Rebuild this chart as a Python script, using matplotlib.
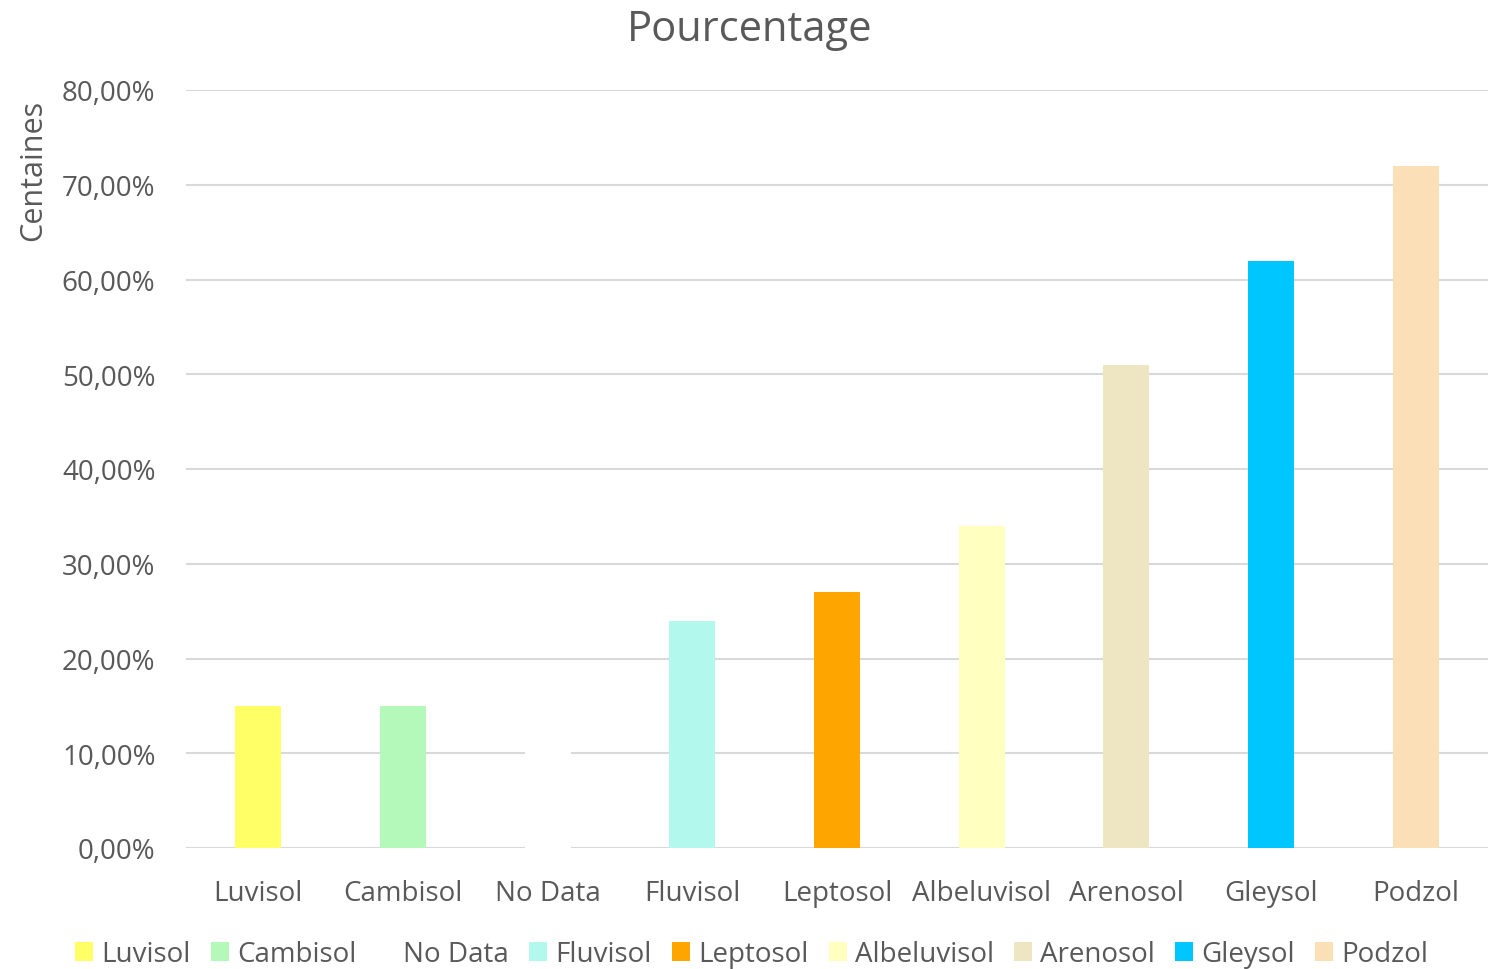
import matplotlib.pyplot as plt
from matplotlib.patches import Patch
from matplotlib.ticker import FuncFormatter

categories = ['Luvisol', 'Cambisol', 'No Data', 'Fluvisol', 'Leptosol',
              'Albeluvisol', 'Arenosol', 'Gleysol', 'Podzol']
values = [0.15, 0.15, 0.15, 0.24, 0.27, 0.34, 0.51, 0.62, 0.72]
colors = ['#FFFF66', '#B4F8BA', '#FFFFFF', '#B2F8EC', '#FFA500',
          '#FFFFC0', '#EEE5C2', '#00C6FF', '#FADFB7']

plt.rcParams['font.family'] = ['Open Sans', 'DejaVu Sans']
txt = '#595959'

fig = plt.figure(figsize=(14.99, 9.70), dpi=100)
ax = fig.add_axes([186 / 1499, 1 - 849 / 970, 1302 / 1499, 758 / 970])

x = range(len(categories))
ax.bar(x, values, width=0.32, color=colors, zorder=3)

ax.set_ylim(0, 0.8)
ax.set_xlim(-0.5, len(categories) - 0.5)
ax.set_yticks([i / 10 for i in range(9)])
ax.yaxis.set_major_formatter(FuncFormatter(lambda v, p: f'{v * 100:.2f}%'.replace('.', ',')))
ax.grid(axis='y', color='#d9d9d9', linewidth=1.5, zorder=0)
for s in ax.spines.values():
    s.set_visible(False)
ax.tick_params(axis='both', length=0, labelsize=20, labelcolor=txt)
ax.tick_params(axis='y', pad=22)
ax.tick_params(axis='x', pad=22)
ax.set_xticks(list(x))
ax.set_xticklabels(categories)

fig.text(0.5, 1 - 30 / 970, 'Pourcentage', ha='center', va='center', fontsize=30, color=txt)
fig.text(33 / 1499, 1 - 170 / 970, 'Centaines', rotation=90, ha='center', va='center',
         fontsize=22, color=txt)

handles = [Patch(facecolor=c, edgecolor='none') for c in colors]
fig.legend(handles, categories, loc='center', bbox_to_anchor=(752 / 1499, 1 - 955 / 970), ncol=9,
           frameon=False, fontsize=20, labelcolor=txt, handlelength=0.65, handleheight=0.65,
           handletextpad=0.3, columnspacing=0.72)

fig.savefig('out.png', dpi=100)
